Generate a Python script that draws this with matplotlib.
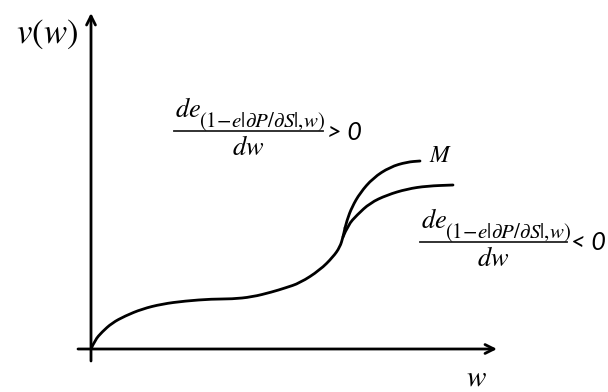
import numpy as np
import matplotlib
matplotlib.use('Agg')
import matplotlib.pyplot as plt
from matplotlib.path import Path
from matplotlib.patches import PathPatch

plt.rcParams['mathtext.fontset'] = 'stix'

# -------------------- data --------------------
# shared lower part of v(w), from origin up to where the branches split
common_w = [0, 4, 11, 21, 34, 51, 71, 94, 121, 141, 161, 181, 194, 209, 229, 242, 249, 252, 254]
common_v = [0, 9, 17, 26, 33, 40, 45, 48, 50, 50, 52, 57, 61, 66, 79, 92, 102, 112, 121]
# branch M (derivative > 0)
m_w = [254, 256, 261, 269, 282, 299, 316, 329]
m_v = [121, 129, 142, 156, 171, 182, 187, 188]
# other branch (derivative < 0)
low_w = [252, 257, 266, 279, 296, 316, 336, 362]
low_v = [112, 124, 134, 146, 154, 160, 163, 164]

X_LABEL = r'$w$'
Y_LABEL = r'$v(w)$'
BRANCH_LABEL = r'$M$'
NUM = r'$de$'
SUB = r'$(1\!-\!e|\partial P/\partial S|,\!w)$'
DEN = r'$dw$'
# --------------------------------------------------------------------


def smooth_curve(ax, xs, ys, **kw):
    # quadratic bezier through midpoints so the hand-drawn curve looks smooth
    pts = np.column_stack([xs, ys]).astype(float)
    verts = [pts[0]]
    codes = [Path.MOVETO]
    for i in range(1, len(pts) - 1):
        mid = (pts[i] + pts[i + 1]) / 2
        verts += [pts[i], mid]
        codes += [Path.CURVE3, Path.CURVE3]
    verts.append(pts[-1])
    codes.append(Path.LINETO)
    ax.add_patch(PathPatch(Path(verts, codes), fill=False, **kw))


def fraction(ax, left, bar_y, bar_len, sign):
    # d e_(...) / d w  followed by the sign
    ax.text(left + 1, bar_y + 14, NUM, fontsize=19, ha='left', va='baseline')
    ax.text(left + 25, bar_y + 4, SUB, fontsize=15, ha='left', va='baseline')
    ax.plot([left, left + bar_len], [bar_y, bar_y], color='#222222', lw=1.3)
    ax.text(left + bar_len / 2, bar_y - 24, DEN, fontsize=19, ha='center', va='baseline')
    ax.text(left + bar_len + 4, bar_y - 1, sign, fontsize=18, style='italic',
            family='Lato', ha='left', va='center')


fig = plt.figure(figsize=(6.08, 3.92), dpi=100)
ax = fig.add_axes([0, 0, 1, 1])
ax.set_xlim(-91, 517)
ax.set_ylim(-43, 349)
ax.axis('off')

# axes drawn as arrows
arrow = dict(arrowstyle='->', lw=2, color='black', mutation_scale=16,
             shrinkA=0, shrinkB=0)
ax.annotate('', xy=(406, 0), xytext=(-13, 0), arrowprops=arrow)
ax.annotate('', xy=(0, 336), xytext=(0, -12), arrowprops=arrow)

style = dict(edgecolor='black', lw=2, joinstyle='round', capstyle='round')
smooth_curve(ax, common_w, common_v, **style)
smooth_curve(ax, m_w, m_v, **style)
smooth_curve(ax, low_w, low_v, **style)

ax.text(-44, 315, Y_LABEL, fontsize=25, ha='center', va='center')
ax.text(385, -37, X_LABEL, fontsize=21, ha='center', va='baseline')
ax.text(350, 194, BRANCH_LABEL, fontsize=17, ha='center', va='center')

fraction(ax, 83, 218, 149, '> 0')
fraction(ax, 329, 107, 147, '< 0')

fig.savefig('out.png', dpi=100)
